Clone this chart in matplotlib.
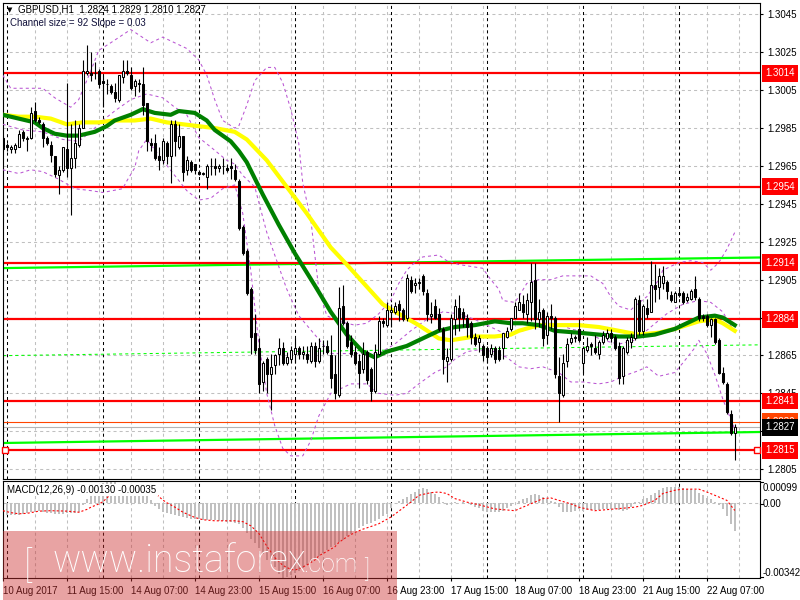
import matplotlib
matplotlib.use("Agg")
import matplotlib.pyplot as plt
from matplotlib.patches import Rectangle

plt.rcParams['lines.scale_dashes'] = False
plt.rcParams['font.family'] = ['Liberation Sans', 'DejaVu Sans']

# GBPUSD H1 candles, 10 Aug 23:00 .. 22 Aug 14:00 (184 bars)
opens = [
    1.2980, 1.2976, 1.2974, 1.2974, 1.2975, 1.2983, 1.2979, 1.2980, 1.2994, 1.2989,
    1.2987, 1.2980, 1.2976, 1.2970, 1.2960, 1.2963, 1.2974, 1.2964, 1.2969, 1.2976,
    1.2985, 1.3014, 1.3014, 1.3014, 1.3015, 1.3010, 1.3008, 1.3007, 1.3004, 1.3000,
    1.3012, 1.3015, 1.3013, 1.3007, 1.3009, 1.3008, 1.2998, 1.2977, 1.2977, 1.2970,
    1.2968, 1.2977, 1.2970, 1.2987, 1.2975, 1.2981, 1.2963, 1.2967, 1.2966, 1.2962,
    1.2961, 1.2959, 1.2965, 1.2965, 1.2964, 1.2965, 1.2964, 1.2965, 1.2963, 1.2957,
    1.2933, 1.2920, 1.2900, 1.2877, 1.2869, 1.2851, 1.2863, 1.2855, 1.2860, 1.2866,
    1.2869, 1.2861, 1.2863, 1.2866, 1.2869, 1.2866, 1.2866, 1.2862, 1.2870, 1.2862,
    1.2870, 1.2870, 1.2865, 1.2855, 1.2844, 1.2891, 1.2882, 1.2872, 1.2867, 1.2862,
    1.2858, 1.2867, 1.2858, 1.2846, 1.2866, 1.2883, 1.2881, 1.2888, 1.2888, 1.2892,
    1.2889, 1.2885, 1.2905, 1.2902, 1.2903, 1.2907, 1.2898, 1.2886, 1.2891, 1.2887,
    1.2879, 1.2862, 1.2863, 1.2884, 1.2890, 1.2888, 1.2885, 1.2882, 1.2875, 1.2872,
    1.2870, 1.2869, 1.2866, 1.2869, 1.2868, 1.2869, 1.2875, 1.2879, 1.2885, 1.2889,
    1.2892, 1.2887, 1.2893, 1.2905, 1.2884, 1.2889, 1.2876, 1.2886, 1.2885, 1.2854,
    1.2844, 1.2862, 1.2872, 1.2874, 1.2879, 1.2861, 1.2868, 1.2871, 1.2869, 1.2866,
    1.2872, 1.2874, 1.2877, 1.2875, 1.2870, 1.2854, 1.2867, 1.2872, 1.2874, 1.2894,
    1.2878, 1.2890, 1.2888, 1.2902, 1.2901, 1.2903, 1.2904, 1.2897, 1.2893, 1.2898,
    1.2898, 1.2894, 1.2895, 1.2900, 1.2895, 1.2886, 1.2886, 1.2881, 1.2884, 1.2873,
    1.2856, 1.2850, 1.2834, 1.2824]
highs = [
    1.2981, 1.2977, 1.2976, 1.2977, 1.2984, 1.2984, 1.2981, 1.2996, 1.2999, 1.2991,
    1.2988, 1.2981, 1.2978, 1.2970, 1.2965, 1.2975, 1.3009, 1.2987, 1.2989, 1.2987,
    1.3021, 1.3029, 1.3025, 1.3020, 1.3016, 1.3013, 1.3011, 1.3008, 1.3009, 1.3013,
    1.3021, 1.3021, 1.3017, 1.3011, 1.3011, 1.3017, 1.2998, 1.2980, 1.2982, 1.2975,
    1.2980, 1.2978, 1.2989, 1.2989, 1.2987, 1.2981, 1.2970, 1.2968, 1.2966, 1.2963,
    1.2962, 1.2966, 1.2969, 1.2969, 1.2966, 1.2969, 1.2966, 1.2969, 1.2966, 1.2958,
    1.2934, 1.2921, 1.2901, 1.2887, 1.2874, 1.2862, 1.2864, 1.2866, 1.2866, 1.2874,
    1.2872, 1.2867, 1.2870, 1.2874, 1.2870, 1.2870, 1.2870, 1.2872, 1.2872, 1.2874,
    1.2873, 1.2873, 1.2876, 1.2865, 1.2901, 1.2902, 1.2883, 1.2876, 1.2870, 1.2866,
    1.2872, 1.2868, 1.2859, 1.2871, 1.2886, 1.2885, 1.2893, 1.2892, 1.2893, 1.2894,
    1.2890, 1.2908, 1.2907, 1.2906, 1.2906, 1.2908, 1.2900, 1.2893, 1.2895, 1.2890,
    1.2880, 1.2869, 1.2887, 1.2895, 1.2897, 1.2890, 1.2887, 1.2883, 1.2877, 1.2876,
    1.2871, 1.2870, 1.2871, 1.2870, 1.2870, 1.2877, 1.2880, 1.2885, 1.2893, 1.2898,
    1.2897, 1.2898, 1.2914, 1.2914, 1.2895, 1.2890, 1.2888, 1.2892, 1.2886, 1.2864,
    1.2866, 1.2874, 1.2877, 1.2876, 1.2884, 1.2870, 1.2875, 1.2872, 1.2876, 1.2873,
    1.2878, 1.2879, 1.2879, 1.2876, 1.2872, 1.2870, 1.2875, 1.2877, 1.2896, 1.2897,
    1.2892, 1.2895, 1.2915, 1.2913, 1.2911, 1.2912, 1.2905, 1.2899, 1.2899, 1.2900,
    1.2899, 1.2898, 1.2900, 1.2907, 1.2896, 1.2887, 1.2887, 1.2885, 1.2885, 1.2874,
    1.2859, 1.2851, 1.2836, 1.2829]
lows = [
    1.2973, 1.2973, 1.2972, 1.2972, 1.2975, 1.2978, 1.2973, 1.2979, 1.2988, 1.2987,
    1.2975, 1.2976, 1.2967, 1.2959, 1.2950, 1.2962, 1.2959, 1.2939, 1.2964, 1.2975,
    1.2985, 1.3013, 1.3010, 1.3011, 1.3006, 1.2996, 1.3003, 1.3003, 1.2999, 1.2999,
    1.3009, 1.3013, 1.3005, 1.3002, 1.3004, 1.2992, 1.2973, 1.2973, 1.2968, 1.2963,
    1.2966, 1.2966, 1.2956, 1.2970, 1.2974, 1.2957, 1.2960, 1.2962, 1.2961, 1.2960,
    1.2960, 1.2953, 1.2960, 1.2960, 1.2962, 1.2961, 1.2962, 1.2958, 1.2957, 1.2931,
    1.2918, 1.2897, 1.2866, 1.2866, 1.2845, 1.2846, 1.2845, 1.2836, 1.2855, 1.2860,
    1.2860, 1.2860, 1.2861, 1.2861, 1.2863, 1.2863, 1.2861, 1.2861, 1.2859, 1.2861,
    1.2866, 1.2866, 1.2848, 1.2842, 1.2843, 1.2881, 1.2869, 1.2864, 1.2860, 1.2848,
    1.2856, 1.2850, 1.2841, 1.2845, 1.2865, 1.2880, 1.2880, 1.2880, 1.2887, 1.2883,
    1.2883, 1.2883, 1.2898, 1.2898, 1.2900, 1.2897, 1.2883, 1.2882, 1.2884, 1.2878,
    1.2855, 1.2851, 1.2862, 1.2876, 1.2878, 1.2880, 1.2875, 1.2871, 1.2870, 1.2867,
    1.2862, 1.2861, 1.2864, 1.2861, 1.2862, 1.2863, 1.2874, 1.2878, 1.2885, 1.2889,
    1.2885, 1.2882, 1.2883, 1.2879, 1.2880, 1.2870, 1.2871, 1.2879, 1.2853, 1.2830,
    1.2843, 1.2859, 1.2871, 1.2872, 1.2872, 1.2856, 1.2867, 1.2865, 1.2866, 1.2863,
    1.2871, 1.2873, 1.2872, 1.2868, 1.2850, 1.2850, 1.2866, 1.2869, 1.2873, 1.2876,
    1.2876, 1.2885, 1.2888, 1.2893, 1.2895, 1.2900, 1.2895, 1.2893, 1.2893, 1.2896,
    1.2892, 1.2893, 1.2894, 1.2894, 1.2883, 1.2883, 1.2880, 1.2875, 1.2871, 1.2855,
    1.2850, 1.2834, 1.2823, 1.2810]
closes = [
    1.2974, 1.2975, 1.2975, 1.2976, 1.2982, 1.2980, 1.2980, 1.2993, 1.2989, 1.2988,
    1.2980, 1.2977, 1.2971, 1.2961, 1.2963, 1.2975, 1.2964, 1.2969, 1.2977, 1.2985,
    1.3015, 1.3015, 1.3013, 1.3014, 1.3008, 1.3009, 1.3008, 1.3004, 1.3001, 1.3013,
    1.3015, 1.3014, 1.3006, 1.3010, 1.3008, 1.2997, 1.2978, 1.2976, 1.2969, 1.2968,
    1.2978, 1.2970, 1.2987, 1.2978, 1.2981, 1.2962, 1.2968, 1.2963, 1.2963, 1.2961,
    1.2961, 1.2965, 1.2965, 1.2964, 1.2965, 1.2965, 1.2963, 1.2964, 1.2958, 1.2932,
    1.2919, 1.2898, 1.2875, 1.2868, 1.2850, 1.2861, 1.2855, 1.2859, 1.2865, 1.2869,
    1.2861, 1.2864, 1.2868, 1.2869, 1.2866, 1.2867, 1.2863, 1.2870, 1.2862, 1.2869,
    1.2870, 1.2867, 1.2853, 1.2845, 1.2890, 1.2882, 1.2870, 1.2866, 1.2861, 1.2856,
    1.2866, 1.2852, 1.2846, 1.2867, 1.2883, 1.2882, 1.2889, 1.2889, 1.2891, 1.2889,
    1.2884, 1.2906, 1.2899, 1.2903, 1.2904, 1.2899, 1.2887, 1.2887, 1.2885, 1.2879,
    1.2863, 1.2864, 1.2885, 1.2891, 1.2885, 1.2885, 1.2880, 1.2875, 1.2871, 1.2874,
    1.2865, 1.2864, 1.2869, 1.2863, 1.2863, 1.2877, 1.2878, 1.2885, 1.2891, 1.2893,
    1.2888, 1.2894, 1.2904, 1.2884, 1.2888, 1.2874, 1.2886, 1.2885, 1.2855, 1.2845,
    1.2861, 1.2871, 1.2874, 1.2875, 1.2873, 1.2869, 1.2870, 1.2870, 1.2867, 1.2872,
    1.2876, 1.2877, 1.2874, 1.2869, 1.2853, 1.2869, 1.2873, 1.2875, 1.2895, 1.2878,
    1.2891, 1.2887, 1.2902, 1.2900, 1.2907, 1.2907, 1.2899, 1.2894, 1.2898, 1.2897,
    1.2893, 1.2896, 1.2899, 1.2896, 1.2885, 1.2885, 1.2881, 1.2884, 1.2872, 1.2856,
    1.2851, 1.2835, 1.2824, 1.2827]

# moving averages (green faster, yellow slower), sampled at bar positions
green_bars = [0, 4, 8, 10, 13, 16, 19, 23, 26, 28, 32, 35, 38, 42, 44, 48, 51, 53, 57, 59,
              61, 65, 69, 73, 78, 82, 86, 90, 93, 96, 101, 106, 109, 113, 118, 123, 127, 130,
              134, 138, 144, 149, 154, 159, 163, 168, 171, 174, 178, 180, 183]
green_ma = [1.2992, 1.2990, 1.2988, 1.2985, 1.2982, 1.2981, 1.2981, 1.2983, 1.2986, 1.2989,
            1.2992, 1.2995, 1.2993, 1.2992, 1.2994, 1.2993, 1.2989, 1.2984, 1.2978, 1.2973,
            1.2967, 1.2950, 1.2934, 1.2919, 1.2902, 1.2888, 1.2876, 1.2867, 1.2864, 1.2867,
            1.2870, 1.2875, 1.2878, 1.2880, 1.2881, 1.2883, 1.2882, 1.2882, 1.2881, 1.2878,
            1.2877, 1.2876, 1.2875, 1.2875, 1.2876, 1.2879, 1.2882, 1.2885, 1.2886, 1.2885,
            1.2881]
yellow_bars = [0, 4, 8, 12, 16, 20, 24, 28, 33, 37, 41, 45, 49, 53, 58, 61, 66, 71, 76, 82,
               86, 92, 95, 99, 104, 109, 112, 118, 123, 127, 129, 134, 139, 144, 149, 154,
               159, 164, 168, 171, 174, 178, 180, 183]
yellow_ma = [1.2992, 1.2991, 1.2991, 1.2990, 1.2987, 1.2988, 1.2988, 1.2989, 1.2989, 1.2990,
             1.2988, 1.2987, 1.2986, 1.2985, 1.2983, 1.2979, 1.2968, 1.2954, 1.2940, 1.2922,
             1.2913, 1.2899, 1.2892, 1.2887, 1.2881, 1.2874, 1.2873, 1.2875, 1.2875, 1.2876,
             1.2878, 1.2881, 1.2881, 1.2881, 1.2880, 1.2878, 1.2876, 1.2877, 1.2879, 1.2881,
             1.2883, 1.2884, 1.2882, 1.2878]

# bollinger bands
upper_bars = [0, 2, 10, 13, 17, 19, 22, 24, 27, 32, 37, 40, 46, 49, 51, 53, 55, 58, 59, 61,
              63, 66, 68, 70, 72, 74, 75, 77, 79, 81, 84, 88, 91, 94, 97, 99, 101, 103, 105,
              109, 111, 114, 117, 120, 122, 124, 125, 128, 129, 131, 134, 137, 140, 144, 147,
              150, 152, 154, 157, 158, 161, 164, 165, 169, 172, 175, 177, 179, 181, 183]
upper_band = [1.3013, 1.3006, 1.3006, 1.3001, 1.2996, 1.3000, 1.3015, 1.3026, 1.3030, 1.3037,
              1.3030, 1.3033, 1.3027, 1.3021, 1.3013, 1.3000, 1.2989, 1.2985, 1.2986, 1.2997,
              1.3010, 1.3017, 1.3017, 1.3009, 1.2995, 1.2977, 1.2956, 1.2937, 1.2900, 1.2886,
              1.2883, 1.2881, 1.2882, 1.2887, 1.2894, 1.2903, 1.2910, 1.2914, 1.2917, 1.2918,
              1.2915, 1.2913, 1.2912, 1.2911, 1.2905, 1.2900, 1.2894, 1.2893, 1.2896, 1.2903,
              1.2905, 1.2905, 1.2907, 1.2907, 1.2907, 1.2903, 1.2896, 1.2891, 1.2889, 1.2891,
              1.2896, 1.2905, 1.2910, 1.2914, 1.2915, 1.2914, 1.2910, 1.2914, 1.2921, 1.2930]
mid_bars = [0, 5, 10, 15, 19, 22, 25, 28, 32, 36, 40, 43, 46, 49, 52, 56, 58, 60, 63, 66,
            69, 71, 74, 78, 82, 86, 90, 94, 98, 102, 106, 110, 114, 118, 122, 126, 130, 134,
            138, 142, 146, 150, 154, 158, 162, 166, 170, 174, 177, 180, 183]
mid_band = [1.2987, 1.2984, 1.2983, 1.2979, 1.2978, 1.2983, 1.2989, 1.2994, 1.3000, 1.3003,
            1.3001, 1.2996, 1.2992, 1.2980, 1.2975, 1.2968, 1.2966, 1.2960, 1.2954, 1.2930,
            1.2912, 1.2900, 1.2886, 1.2876, 1.2866, 1.2866, 1.2866, 1.2866, 1.2871, 1.2878,
            1.2884, 1.2888, 1.2887, 1.2884, 1.2880, 1.2876, 1.2878, 1.2882, 1.2882, 1.2879,
            1.2877, 1.2873, 1.2871, 1.2873, 1.2880, 1.2887, 1.2892, 1.2894, 1.2893, 1.2888,
            1.2877]
lower_bars = [0, 4, 7, 10, 14, 18, 22, 25, 30, 31, 33, 34, 36, 40, 43, 46, 49, 52, 55, 58,
              60, 62, 64, 66, 68, 70, 72, 75, 77, 79, 82, 84, 87, 91, 94, 98, 101, 104, 108,
              111, 113, 116, 119, 123, 126, 129, 132, 135, 139, 142, 145, 149, 152, 155, 159,
              161, 164, 168, 170, 173, 174, 176, 178, 180, 183]
lower_band = [1.2963, 1.2961, 1.2963, 1.2962, 1.2958, 1.2953, 1.2952, 1.2951, 1.2953, 1.2957,
              1.2964, 1.2973, 1.2979, 1.2968, 1.2960, 1.2952, 1.2947, 1.2948, 1.2953, 1.2955,
              1.2940, 1.2910, 1.2872, 1.2845, 1.2828, 1.2816, 1.2812, 1.2812, 1.2820, 1.2833,
              1.2845, 1.2847, 1.2850, 1.2850, 1.2845, 1.2844, 1.2845, 1.2850, 1.2856, 1.2859,
              1.2863, 1.2867, 1.2868, 1.2867, 1.2864, 1.2859, 1.2858, 1.2859, 1.2856, 1.2851,
              1.2851, 1.2850, 1.2851, 1.2854, 1.2857, 1.2859, 1.2854, 1.2856, 1.2861, 1.2869,
              1.2873, 1.2866, 1.2855, 1.2842, 1.2826]

# regression channel, price at left and right edge of the chart
channel_upper = [1.29111, 1.29167]
channel_mid = [1.28649, 1.28706]
channel_lower = [1.28188, 1.28246]

# horizontal levels
red_levels = [1.3014, 1.2954, 1.2914, 1.2884, 1.2841, 1.2815]
orange_level = 1.2830
bid_price = 1.2827

# MACD(12,26,9): main histogram (x1e-5) and signal line samples
macd_hist = [
    -50, -55, -57, -57, -55, -50, -45, -42, -40, -38,
    -42, -45, -48, -50, -50, -50, -48, -48, -45, -40,
    -10, 15, 40, 60, 75, 88, 95, 99, 97, 85,
    80, 75, 70, 62, 55, 45, 30, 12, -15, -30,
    -40, -48, -52, -56, -60, -63, -67, -72, -74, -76,
    -78, -79, -80, -80, -82, -84, -86, -88, -90, -97,
    -115, -136, -165, -185, -205, -235, -260, -278, -291, -325,
    -342, -338, -330, -320, -308, -295, -282, -268, -255, -242,
    -228, -213, -200, -190, -178, -168, -152, -142, -130, -113,
    -105, -97, -93, -85, -72, -59, -51, -25, 0, 8,
    15, 26, 42, 50, 62, 65, 62, 50, 42, 26,
    3, -9, -3, 3, 0, 3, -2, -12, -17, -25,
    -36, -40, -43, -43, -40, -36, -25, -15, 0, 8,
    15, 22, 37, 42, 34, 26, 19, 6, 3, -20,
    -40, -43, -40, -36, -28, -36, -34, -34, -31, -31,
    -28, -28, -28, -28, -31, -36, -31, -20, 3, 3,
    15, 22, 34, 46, 57, 68, 73, 73, 73, 70,
    65, 62, 62, 57, 46, 34, 22, 15, 3, -9,
    -28, -60, -95, -130]
signal_bars = [0, 2, 4, 6, 9, 12, 16, 19, 21, 22, 24, 25, 26, 27, 28, 30, 33, 36, 37, 38,
               39, 40, 41, 43, 45, 48, 50, 53, 58, 60, 62, 64, 66, 68, 70, 72, 73, 74, 76, 78,
               79, 81, 83, 84, 86, 88, 90, 92, 94, 97, 99, 102, 104, 107, 109, 111, 113, 116,
               119, 123, 128, 130, 133, 135, 137, 139, 142, 144, 148, 153, 158, 160, 163, 165,
               168, 170, 174, 176, 178, 181, 183]
signal_line = [-36, -45, -50, -48, -38, -36, -38, -43, -30, -20, -5, 5, 22, 40, 50, 58, 62, 62,
               58, 45, 28, 12, 0, -20, -43, -67, -77, -82, -82, -86, -105, -140, -198, -250,
               -285, -303, -306, -300, -283, -260, -241, -221, -200, -180, -155, -135, -120,
               -108, -95, -65, -38, 3, 34, 46, 49, 42, 19, 3, -9, -28, -36, -20, 3, 19, 22, 11,
               -5, -20, -36, -28, -20, -12, 11, 42, 57, 62, 62, 49, 34, 11, -35]

time_labels = ['10 Aug 2017', '11 Aug 15:00', '14 Aug 07:00', '14 Aug 23:00', '15 Aug 15:00',
               '16 Aug 07:00', '16 Aug 23:00', '17 Aug 15:00', '18 Aug 07:00', '18 Aug 23:00',
               '21 Aug 15:00', '22 Aug 07:00']
label_bars = [0, 16, 32, 48, 64, 80, 96, 112, 128, 144, 160, 176]
day_starts = [1, 25, 49, 73, 97, 121, 145, 169]
price_ticks = [1.2805, 1.2825, 1.2845, 1.2865, 1.2885, 1.2905, 1.2925, 1.2945, 1.2965,
               1.2985, 1.3005, 1.3025, 1.3045]
# tick labels that sit under a price tag on the original are not shown
hidden_ticks = [1.2825, 1.2885]

W, H = 800, 600


def fx(px):
    return px / W


def fy(py):
    return 1 - py / H


fig = plt.figure(figsize=(8, 6), dpi=100)
ax = fig.add_axes([fx(3), fy(479), 757 / W, 476 / H])
ax2 = fig.add_axes([fx(3), fy(578), 757 / W, 97 / H])

x0, x1 = 0.075, 189.3
dash = (0, (2.2, 2.2))
grid_c = '#C0C0C0'

for a in (ax, ax2):
    a.set_xlim(x0, x1)
    for b in range(0, 190, 8):
        a.axvline(b, color=grid_c, lw=0.75, ls=dash, zorder=0)
    for d in day_starts:
        a.axvline(d, color='black', lw=0.75, ls=dash, zorder=1)
    for s in a.spines.values():
        s.set_linewidth(0.8)
        s.set_color('black')

# ---- price panel
ax.set_ylim(1.27998, 1.30510)
for t in price_ticks:
    ax.axhline(t, color=grid_c, lw=0.75, ls=dash, zorder=0)

ax.plot([x0, x1], channel_upper, color='#00FF00', lw=1.6, zorder=2)
ax.plot([x0, x1], channel_lower, color='#00FF00', lw=1.6, zorder=2)
ax.plot([x0, x1], channel_mid, color='#00FF00', lw=0.75, ls=dash, zorder=2)

for lv in red_levels:
    ax.axhline(lv, color='red', lw=1.6, zorder=2)
ax.axhline(orange_level, color='#FF4500', lw=0.8, zorder=2)
ax.axhline(bid_price, color='#B4B4B4', lw=0.8, zorder=2)
ax.plot([0.6, 188.6], [red_levels[-1]] * 2, 's', ms=4, mfc='white', mec='red', mew=1,
        zorder=7, clip_on=False)

purple = '#BA55D3'
ax.plot(upper_bars, upper_band, color=purple, lw=0.75, ls=dash, zorder=3)
ax.plot(mid_bars, mid_band, color=purple, lw=0.75, ls=dash, zorder=3)
ax.plot(lower_bars, lower_band, color=purple, lw=0.75, ls=dash, zorder=3)

ax.plot(yellow_bars, yellow_ma, color='#FFFF00', lw=3, zorder=4)
ax.plot(green_bars, green_ma, color='#008000', lw=3, zorder=4)

bars = list(range(len(closes)))
body_lo = [min(o, c) for o, c in zip(opens, closes)]
body_h = [max(abs(c - o), 0.00001) for o, c in zip(opens, closes)]
fills = ['white' if c >= o else 'black' for o, c in zip(opens, closes)]
ax.vlines(bars, lows, highs, color='black', lw=0.8, zorder=5)
ax.bar(bars, body_h, bottom=body_lo, width=0.5, color=fills, edgecolor='black',
       linewidth=0.75, zorder=6)

ax.set_xticks([])
ax.yaxis.tick_right()
ax.set_yticks(price_ticks)
ax.set_yticklabels(['' if t in hidden_ticks else '%.4f' % t for t in price_ticks])
ax.tick_params(axis='y', length=2.5, width=0.8, pad=2.5, labelsize=7)


def price_tag(p, fc, txt=None):
    ax.text(1.0066, p, txt or '%.4f' % p, transform=ax.get_yaxis_transform(),
            ha='left', va='center', fontsize=7, color='white', clip_on=False, zorder=10,
            bbox=dict(boxstyle='square,pad=0.35', fc=fc, ec='none'))


for lv in red_levels:
    price_tag(lv, 'red')
price_tag(orange_level, '#FF4500')
price_tag(bid_price, 'black')

fig.text(fx(7), fy(10), '\u25bc', fontsize=5, va='center', ha='left',
         family=['DejaVu Sans'])
fig.text(fx(18), fy(10), 'GBPUSD,H1  %.4f %.4f %.4f %.4f'
         % (opens[-1], highs[-1], lows[-1], closes[-1]), fontsize=7, va='center')
fig.text(fx(10), fy(23), 'Channel size = 92 Slope = 0.03', fontsize=7, va='center',
         color='#10103a')

# ---- MACD panel
ax2.set_ylim(-0.00342, 0.00099)
ax2.axhline(0, color=grid_c, lw=0.75, ls=dash, zorder=0)
ax2.bar(bars, [h * 1e-5 for h in macd_hist], width=0.6, color='#C0C0C0', zorder=2)
ax2.plot(signal_bars, [s * 1e-5 for s in signal_line], color='red', lw=0.8,
         ls=(0, (1.5, 1.5)), zorder=3)
ax2.set_yticks([])
ax2.set_xticks(label_bars)
ax2.set_xticklabels(time_labels, ha='left', fontsize=7)
ax2.tick_params(axis='x', length=2.5, width=0.8, pad=3)

for py, s in [(488, '0.00099'), (504, '0.00'), (573, '-0.00342')]:
    fig.text(fx(763), fy(py), s, fontsize=7, va='center', ha='left')
for py in (482, 504, 577):
    fig.add_artist(plt.Line2D([fx(760), fx(763)], [fy(py), fy(py)], color='black', lw=0.8))

fig.text(fx(7), fy(490), 'MACD(12,26,9) -0.00130 -0.00035', fontsize=7, va='center',
         zorder=5, bbox=dict(boxstyle='square,pad=0.15', fc='white', ec='none'))

# ---- watermark
fig.patches.append(Rectangle((fx(3), 0), (397 - 3) / W, 69 / H, transform=fig.transFigure,
                             facecolor=(0.8, 0.2, 0.2), alpha=0.45, zorder=6,
                             edgecolor='none'))
wm = dict(color='white', family=['Roboto', 'DejaVu Sans'], weight='light', zorder=7,
          va='baseline', ha='left')
fig.text(fx(24), fy(577), '[', fontsize=26, **wm)
fig.text(fx(52), fy(572), 'www.instaforex', fontsize=27, **wm)
fig.text(fx(303), fy(572), '.com', fontsize=18, **wm)
fig.text(fx(364), fy(577), ']', fontsize=17, **wm)

fig.savefig('out.png', dpi=100)
